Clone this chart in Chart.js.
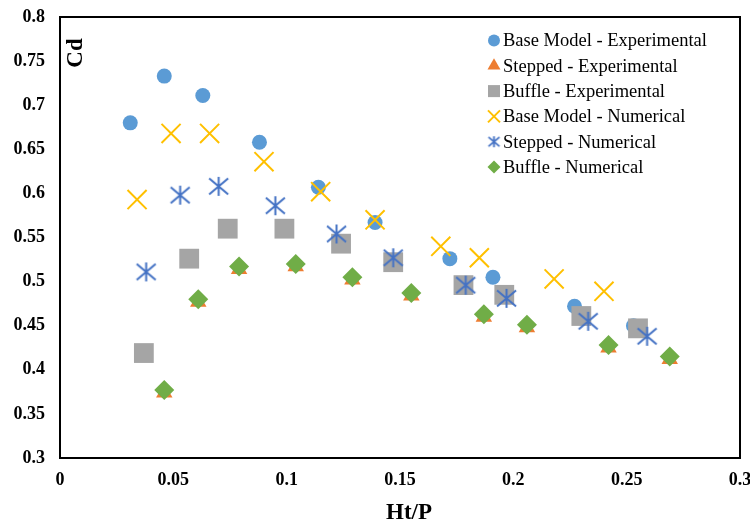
<!DOCTYPE html>
<html>
<head>
<meta charset="utf-8">
<script src="https://cdn.jsdelivr.net/npm/chart.js@4/dist/chart.umd.min.js"></script>
<style>
html, body { margin: 0; padding: 0; background: #fff; }
</style>
</head>
<body>
<canvas id="cdChart" width="750" height="526"></canvas>
<script>
// data
const seriesLabels = ['Base Model - Experimental', 'Stepped - Experimental', 'Buffle - Experimental',
  'Base Model - Numerical', 'Stepped - Numerical', 'Buffle - Numerical'];

const baseExpX = [0.031, 0.046, 0.063, 0.088, 0.114, 0.139, 0.172, 0.191, 0.227, 0.253];
const baseExpY = [0.680, 0.733, 0.711, 0.658, 0.607, 0.567, 0.526, 0.505, 0.472, 0.450];

const steppedExpX = [0.046, 0.061, 0.079, 0.104, 0.129, 0.155, 0.187, 0.206, 0.242, 0.269];
const steppedExpY = [0.374, 0.477, 0.514, 0.517, 0.502, 0.484, 0.460, 0.448, 0.425, 0.412];

const buffleExpX = [0.037, 0.057, 0.074, 0.099, 0.124, 0.147, 0.178, 0.196, 0.230, 0.255];
const buffleExpY = [0.419, 0.526, 0.560, 0.560, 0.543, 0.522, 0.496, 0.485, 0.461, 0.447];

const baseNumX = [0.034, 0.049, 0.066, 0.090, 0.115, 0.139, 0.168, 0.185, 0.218, 0.240];
const baseNumY = [0.593, 0.668, 0.668, 0.636, 0.602, 0.570, 0.540, 0.527, 0.503, 0.489];

const steppedNumX = [0.038, 0.053, 0.070, 0.095, 0.122, 0.147, 0.179, 0.197, 0.233, 0.259];
const steppedNumY = [0.511, 0.598, 0.608, 0.586, 0.554, 0.527, 0.496, 0.481, 0.455, 0.438];

const buffleNumX = [0.046, 0.061, 0.079, 0.104, 0.129, 0.155, 0.187, 0.206, 0.242, 0.269];
const buffleNumY = [0.377, 0.480, 0.517, 0.520, 0.505, 0.487, 0.463, 0.451, 0.428, 0.415];

const xTickLabels = ['0', '0.05', '0.1', '0.15', '0.2', '0.25', '0.3'];
const yTickLabels = ['0.3', '0.35', '0.4', '0.45', '0.5', '0.55', '0.6', '0.65', '0.7', '0.75', '0.8'];

const SERIF = '"Liberation Serif", "Times New Roman", serif';

// asterisk marker (excel "star")
function makeAsterisk(w, h, lw, color) {
  const c = document.createElement('canvas');
  c.width = Math.ceil(w + lw * 2);
  c.height = Math.ceil(h + lw * 2);
  const g = c.getContext('2d');
  g.strokeStyle = color;
  g.lineWidth = lw;
  const cx = c.width / 2, cy = c.height / 2, dx = w / 2, dy = h / 2;
  g.beginPath();
  g.moveTo(cx, cy - dy); g.lineTo(cx, cy + dy);
  g.moveTo(cx - dx, cy - dy * 0.85); g.lineTo(cx + dx, cy + dy * 0.85);
  g.moveTo(cx - dx, cy + dy * 0.85); g.lineTo(cx + dx, cy - dy * 0.85);
  g.stroke();
  return c;
}

const starBig = makeAsterisk(19, 19, 2, '#4472C4');
const starSmall = makeAsterisk(11, 11, 1.8, '#4472C4');

function zip(xs, ys) { return xs.map((x, i) => ({ x, y: ys[i] })); }

const styles = [
  { color: '#5B9BD5', pointStyle: 'circle', radius: 7.5, bw: 0, legend: { pointStyle: 'circle', radius: 6 } },
  { color: '#ED7D31', pointStyle: 'triangle', radius: 9.5, bw: 0, legend: { pointStyle: 'triangle', radius: 7.5 } },
  { color: '#A5A5A5', pointStyle: 'rect', radius: 14, bw: 0, legend: { pointStyle: 'rect', radius: 8.5 } },
  { color: '#FFC000', pointStyle: 'crossRot', radius: 13.5, bw: 2, legend: { pointStyle: 'crossRot', radius: 8.5 } },
  { color: '#4472C4', pointStyle: starBig, radius: 10, bw: 0, legend: { pointStyle: starSmall, radius: 6 } },
  { color: '#70AD47', pointStyle: 'rectRot', radius: 10, bw: 0, legend: { pointStyle: 'rectRot', radius: 6.5 } }
];

const seriesData = [
  zip(baseExpX, baseExpY), zip(steppedExpX, steppedExpY), zip(buffleExpX, buffleExpY),
  zip(baseNumX, baseNumY), zip(steppedNumX, steppedNumY), zip(buffleNumX, buffleNumY)
];

const datasets = seriesData.map((d, i) => ({
  label: seriesLabels[i],
  data: d,
  pointStyle: styles[i].pointStyle,
  pointRadius: styles[i].radius,
  pointHoverRadius: styles[i].radius,
  pointBorderWidth: styles[i].bw,
  backgroundColor: styles[i].color,
  borderColor: styles[i].color,
  showLine: false,
  order: 6 - i // later series drawn on top, like excel
}));

/* frame, legend and titles */
const decorPlugin = {
  id: 'decor',
  afterDraw(chart) {
    const ctx = chart.ctx;
    const a = chart.chartArea;
    ctx.save();
    ctx.strokeStyle = '#000';
    ctx.lineWidth = 2;
    ctx.strokeRect(a.left, a.top, a.right - a.left, a.bottom - a.top);

    // legend
    ctx.font = '18.5px ' + SERIF;
    ctx.textBaseline = 'middle';
    ctx.textAlign = 'left';
    seriesLabels.forEach((label, i) => {
      const y = 40.5 + i * 25.3;
      const s = styles[i];
      ctx.fillStyle = s.color;
      ctx.strokeStyle = s.color;
      ctx.lineWidth = s.bw || 1.8;
      Chart.helpers.drawPoint(ctx, {
        pointStyle: s.legend.pointStyle, radius: s.legend.radius, rotation: 0, borderWidth: s.bw
      }, 494, y);
      ctx.fillStyle = '#000';
      ctx.fillText(label, 503, y + 1);
    });

    // axis titles
    ctx.fillStyle = '#000';
    ctx.font = 'bold 23px ' + SERIF;
    ctx.textAlign = 'center';
    ctx.textBaseline = 'middle';
    ctx.fillText('Ht/P', 409, 513);
    ctx.translate(75, 53);
    ctx.rotate(-Math.PI / 2);
    ctx.fillText('Cd', 0, 1);
    ctx.restore();
  }
};

new Chart(document.getElementById('cdChart'), {
  type: 'scatter',
  data: { datasets },
  plugins: [decorPlugin],
  options: {
    responsive: false,
    animation: false,
    events: [],
    layout: { autoPadding: false, padding: { top: 17, right: 10, left: 0, bottom: 0 } },
    plugins: { legend: { display: false }, tooltip: { enabled: false } },
    scales: {
      x: {
        type: 'linear',
        min: 0, max: 0.3,
        grid: { display: false, drawTicks: false },
        border: { display: false },
        ticks: {
          stepSize: 0.05,
          padding: 12,
          color: '#000',
          font: { family: SERIF, size: 18, weight: 'bold' },
          callback: (v, i) => xTickLabels[i]
        },
        afterFit(axis) { axis.height = 68; axis.paddingLeft = 0; axis.paddingRight = 0; }
      },
      y: {
        type: 'linear',
        min: 0.3, max: 0.8,
        grid: { display: false, drawTicks: false },
        border: { display: false },
        ticks: {
          stepSize: 0.05,
          padding: 15,
          color: '#000',
          font: { family: SERIF, size: 18, weight: 'bold' },
          callback: (v, i) => yTickLabels[i]
        },
        afterFit(axis) { axis.width = 60; axis.paddingTop = 0; axis.paddingBottom = 0; }
      }
    }
  }
});
</script>
</body>
</html>
